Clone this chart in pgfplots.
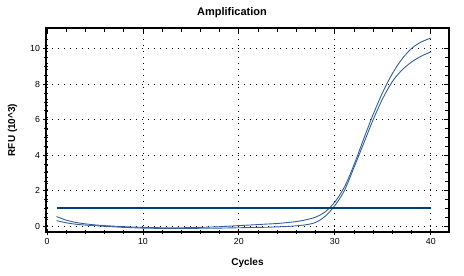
\documentclass[border=0pt]{standalone}
\usepackage{fontspec}
\setmainfont{Liberation Sans}
\usepackage{pgfplots}
\usepackage{pgfplotstable}
\pgfplotsset{compat=1.18}

\definecolor{curve}{RGB}{52,96,160}
\definecolor{thresh}{RGB}{0,62,122}

% RFU (x1000) per cycle for the two wells
\pgfplotstableread{
cyc early late
1  0.53  0.30
2  0.33  0.18
3  0.20  0.10
4  0.12  0.05
5  0.06  0.02
6  0.02  -0.02
7  -0.01 -0.05
8  -0.04 -0.08
9  -0.06 -0.10
10 -0.08 -0.12
11 -0.09 -0.13
12 -0.10 -0.14
13 -0.10 -0.14
14 -0.10 -0.14
15 -0.09 -0.14
16 -0.08 -0.13
17 -0.06 -0.13
18 -0.04 -0.12
19 -0.01 -0.11
20 0.02  -0.10
21 0.05  -0.09
22 0.08  -0.08
23 0.11  -0.07
24 0.14  -0.05
25 0.19  -0.03
26 0.25  0.01
27 0.35  0.07
28 0.50  0.20
29 0.80  0.55
30 1.35  1.15
31 2.20  2.00
32 3.45  3.30
33 4.90  4.65
34 6.30  6.00
35 7.55  7.20
36 8.60  8.15
37 9.42  8.80
38 10.02 9.25
39 10.38 9.58
40 10.60 9.82
}\ampdata

% threshold line
\pgfplotstableread{
cyc rfu
1  1.0
40 1.0
}\thresholddata

\begin{document}
\begin{tikzpicture}[x=1pt,y=1pt]
\pgfplotsset{
  frame/.style={
    at={(0,0)}, anchor=south west,
    scale only axis, width=403pt, height=204pt,
    xmin=-0.1, xmax=41.9, ymin=-0.34, ymax=11.17,
    xtick={0,10,20,30,40}, minor x tick num=4,
    ytick={0,2,4,6,8,10}, minor y tick num=3,
    major tick length=5pt, minor tick length=4pt,
    tick style={black, line width=0.8pt},
    axis line style={black, line width=1.2pt},
    ticklabel style={font=\fontsize{8.8}{10}\selectfont},
    /pgf/number format/assume math mode=true,
  }
}
\begin{axis}[frame,
    xtick pos=bottom, ytick pos=left, tick align=center,
    xmajorgrids, ymajorgrids,
    major grid style={black, line width=0.8pt, dash pattern=on 0.8pt off 5.2pt},
  ]
  \addplot[curve, line width=0.9pt, smooth] table[x=cyc, y=early] {\ampdata};
  \addplot[curve, line width=0.9pt, smooth] table[x=cyc, y=late] {\ampdata};
  \addplot[thresh, line width=2.2pt] table[x=cyc, y=rfu] {\thresholddata};
\end{axis}
\begin{axis}[frame,
    xtick pos=top, ytick pos=right, tick align=inside,
    xticklabels={}, yticklabels={},
  ]
\end{axis}
\node[font=\fontsize{11}{13}\selectfont\bfseries] at (186pt,219pt) {Amplification};
\node[font=\fontsize{10}{12}\selectfont\bfseries] at (201.5pt,-31pt) {Cycles};
\node[font=\fontsize{10}{12}\selectfont\bfseries, rotate=90] at (-33.5pt,102pt) {RFU (10\textasciicircum 3)};
\pgfresetboundingbox
\path (-46pt,-44pt) rectangle (418pt,232pt);
\end{tikzpicture}
\end{document}
